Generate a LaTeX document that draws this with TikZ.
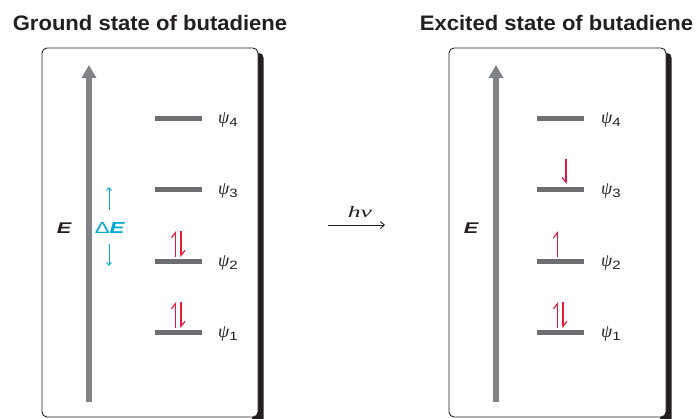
\documentclass[tikz,border=0pt]{standalone}
\usepackage{graphicx}
\usepackage{fontspec}
\setmainfont{Liberation Sans}
\newfontfamily\grk{Liberation Serif}
\usetikzlibrary{arrows.meta}
\definecolor{bargray}{HTML}{6D6E71}
\definecolor{axisgray}{HTML}{808285}
\definecolor{ered}{HTML}{E8173B}
\definecolor{dcyan}{HTML}{00AAD2}
\definecolor{ink}{HTML}{231F20}
\tikzset{
  panel/.style={draw=ink, line width=0.9pt, fill=white, rounded corners=5pt},
  shadowstrip/.style={fill=ink},
  axis/.style={axisgray, line width=5.5pt, -{Triangle[width=14pt,length=13pt]}},
  level/.style={bargray, line width=5pt},
  lab/.style={anchor=west, inner sep=0pt, text=ink},
  elec/.style={ered, line width=1.2pt},
  titletext/.style={font=\fontsize{21}{22}\selectfont\bfseries, text=ink, inner sep=0pt, anchor=base},
  etext/.style={font=\fontsize{15.5}{16}\selectfont\bfseries\itshape, text=ink, inner sep=0pt},
  darr/.style={dcyan, line width=0.8pt, -{Straight Barb[length=3pt,width=5pt]}},
}
\newcommand{\wide}[2][1.4]{\scalebox{#1}[1]{#2}}
\newcommand{\psil}[1]{{\fontsize{18}{18}\selectfont\grk\itshape ψ}\raisebox{-3.5pt}{\fontsize{12}{12}\selectfont\wide[1.25]{#1}}}
\begin{document}
\begin{tikzpicture}[x=1pt,y=-1pt]
\useasboundingbox (0,0) rectangle (699,419);
% titles
\node[titletext] (t1) at (150,31) {\wide[1.05]{Ground state of butadiene}};
\node[titletext] (t2) at (556.5,31) {\wide[1.05]{Excited state of butadiene}};
% panels
\fill[shadowstrip] (252,53) -- (259,53) .. controls (262,53) and (263.5,55) .. (263.5,58) -- (263.5,419) -- (252,419) -- cycle;
\draw[panel] (42,48) rectangle (258,417);
\fill[shadowstrip] (660,53) -- (667,53) .. controls (670,53) and (671.5,55) .. (671.5,58) -- (671.5,419) -- (660,419) -- cycle;
\draw[panel] (449,48) rectangle (666,417);
% axes
\coordinate (a1b) at (89,402); \coordinate (a1t) at (89,65);
\coordinate (a2b) at (496,402); \coordinate (a2t) at (496,65);
\draw[axis] (a1b) -- (a1t);
\draw[axis] (a2b) -- (a2t);
\node[etext] (E1) at (64,228) {\wide{E}};
\node[etext] (E2) at (471,228) {\wide{E}};
% levels
\foreach \y/\n in {119/4,190/3,262/2,333/1}{
  \draw[level] (155,\y) -- (202,\y);
  \node[lab] (l\n) at (218,\y+1) {\psil{\n}};
  \draw[level] (537,\y) -- (584,\y);
  \node[lab] (r\n) at (601,\y+1) {\psil{\n}};
}
% Delta E
\node[font=\fontsize{16}{16}\selectfont, text=dcyan, inner sep=0pt] (dE) at (110,228) {\wide{Δ\textbf{\textit{E}}}};
\coordinate (du1) at (109,210); \coordinate (du2) at (109,187);
\coordinate (dd1) at (109,244); \coordinate (dd2) at (109,266);
\draw[darr] (du1) -- (du2);
\draw[darr] (dd1) -- (dd2);
% electrons left
\coordinate (e2a) at (175.5,257); \coordinate (e2b) at (175.5,231);
\coordinate (e2c) at (181,231); \coordinate (e2d) at (181,257);
\draw[elec, -{Straight Barb[left,length=5pt,width=8pt]}] (e2a) -- (e2b);
\draw[elec, -{Straight Barb[left,length=5pt,width=8pt]}] (e2c) -- (e2d);
\coordinate (e1a) at (175.5,328); \coordinate (e1b) at (175.5,302);
\coordinate (e1c) at (181,302); \coordinate (e1d) at (181,328);
\draw[elec, -{Straight Barb[left,length=5pt,width=8pt]}] (e1a) -- (e1b);
\draw[elec, -{Straight Barb[left,length=5pt,width=8pt]}] (e1c) -- (e1d);
% electrons right
\coordinate (f3a) at (566,159); \coordinate (f3b) at (566,184);
\draw[elec, -{Straight Barb[right,length=5pt,width=8pt]}] (f3a) -- (f3b);
\coordinate (f2a) at (557.5,257); \coordinate (f2b) at (557.5,231);
\draw[elec, -{Straight Barb[left,length=5pt,width=8pt]}] (f2a) -- (f2b);
\coordinate (f1a) at (557.5,328); \coordinate (f1b) at (557.5,302);
\coordinate (f1c) at (563,302); \coordinate (f1d) at (563,328);
\draw[elec, -{Straight Barb[left,length=5pt,width=8pt]}] (f1a) -- (f1b);
\draw[elec, -{Straight Barb[left,length=5pt,width=8pt]}] (f1c) -- (f1d);
% h nu arrow
\coordinate (h1) at (328,225); \coordinate (h2) at (385,225);
\draw[ink, line width=0.9pt, -{Straight Barb[length=4pt,width=7pt]}] (h1) -- (h2);
\node[font=\fontsize{16}{16}\selectfont\grk\itshape, text=ink, inner sep=0pt] (hv) at (360,212) {\wide[1.6]{hν}};
\end{tikzpicture}
\end{document}
